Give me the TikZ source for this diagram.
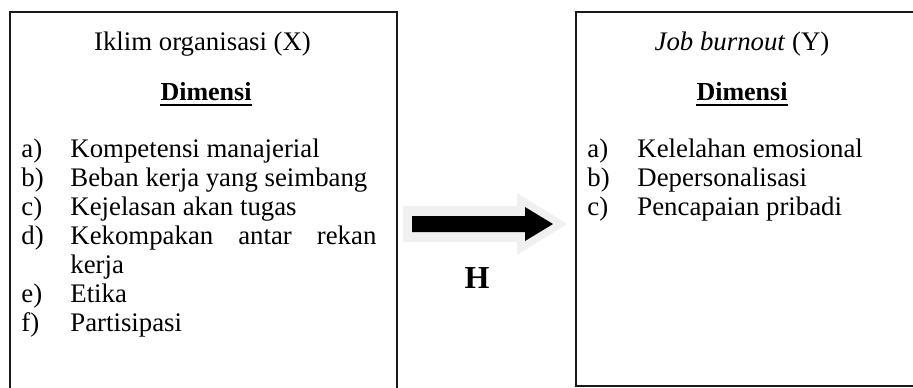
\documentclass[tikz,border=0pt]{standalone}
\usepackage{fontspec}
\setmainfont{Liberation Serif}
\begin{document}
\begin{tikzpicture}[x=0.5pt,y=-0.5pt,
  frame/.style={draw=black!90, line width=1pt, inner sep=0pt, anchor=north west},
  body/.style={inner sep=0pt, font=\fontsize{13.4}{15}\selectfont},
  item/.style={body, anchor=base west},
  title/.style={body, anchor=base},
  dimhead/.style={body, anchor=base, font=\fontsize{13}{15}\selectfont\bfseries},
  uline/.style={line width=0.9pt},
]
\useasboundingbox (0,0) rectangle (913,387);

% the two variable boxes (they run past the page edge)
\node[frame, minimum width=193.5pt, minimum height=195pt] (boxX) at (9,11) {};
\node[frame, minimum width=175pt, minimum height=187pt] (boxY) at (575,11) {};

% left box: organisational climate
\node[title] (tX) at (202.5,50) {Iklim organisasi (X)};
\node[dimhead] (dX) at (206,100) {Dimensi};
\draw[uline] ([yshift=-2.6pt]dX.base west) -- ([yshift=-2.6pt]dX.base east);

\node[item] (la) at (21,157) {a)};
\node[item] (ia) at (70,157) {Kompetensi manajerial};
\node[item] (lb) at (21,186) {b)};
\node[item] (ib) at (70,186) {Beban kerja yang seimbang};
\node[item] (lc) at (21,215) {c)};
\node[item] (ic) at (70,215) {Kejelasan akan tugas};
\node[item] (ld) at (21,244) {d)};
\node[item] (id) at (70,244) {\hbox to 153pt{Kekompakan\hfill antar\hfill rekan}};
\node[item] (id2) at (70,273) {kerja};
\node[item] (le) at (21,302) {e)};
\node[item] (ie) at (70,302) {Etika};
\node[item] (lf) at (21,331) {f)};
\node[item] (if) at (70,331) {Partisipasi};

% right box: job burnout
\node[title] (tY) at (742,50) {\textit{Job burnout} (Y)};
\node[dimhead] (dY) at (742,100) {Dimensi};
\draw[uline] ([yshift=-2.6pt]dY.base west) -- ([yshift=-2.6pt]dY.base east);

\node[item] (ra) at (587,157) {a)};
\node[item] (ya) at (637,157) {Kelelahan emosional};
\node[item] (rb) at (587,186) {b)};
\node[item] (yb) at (637,186) {Depersonalisasi};
\node[item] (rc) at (587,215) {c)};
\node[item] (yc) at (637,215) {Pencapaian pribadi};

% block arrow X -> Y with its soft halo
\fill[black!6] (403,206) -- (517,206) -- (517,193) -- (567,224) -- (517,255) -- (517,242) -- (403,242) -- cycle;
\fill[black] (412,216) -- (525,216) -- (525,207) -- (553,224) -- (525,241) -- (525,232) -- (412,232) -- cycle;

\node[title, font=\fontsize{16}{18}\selectfont\bfseries] (hyp) at (477,288) {H};
\end{tikzpicture}
\end{document}
